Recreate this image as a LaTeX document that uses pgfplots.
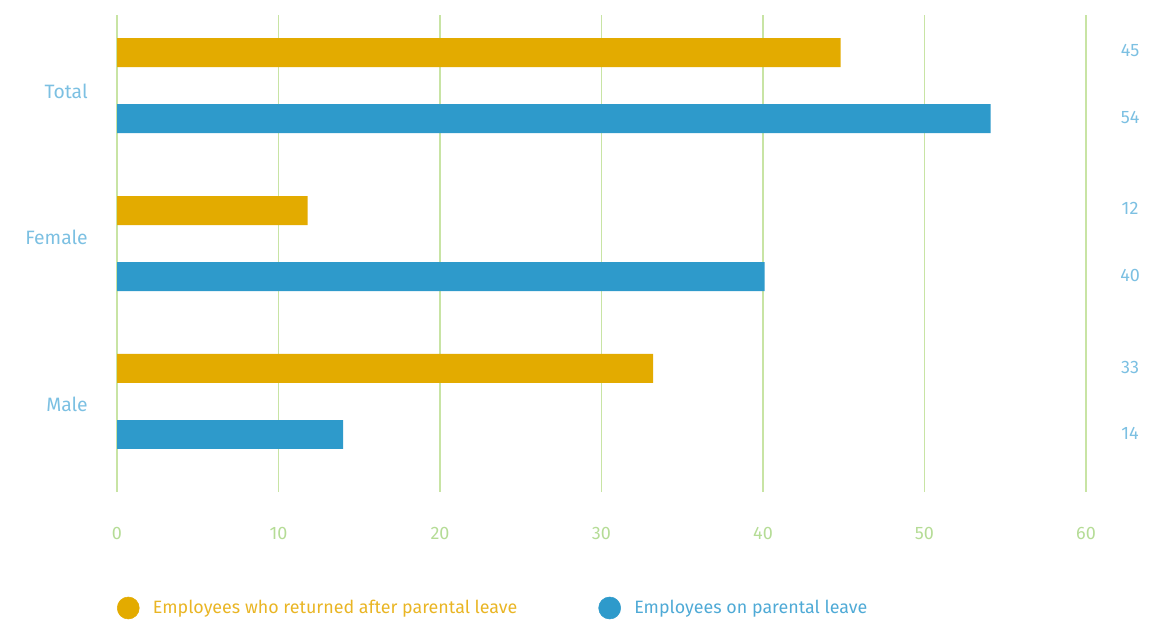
\documentclass[border=0pt]{standalone}
\usepackage{fontspec}
\setmainfont{Fira Sans}
\usepackage{pgfplots}
\pgfplotsset{compat=1.18}
\definecolor{gold}{HTML}{E3AB00}
\definecolor{barblue}{HTML}{2E9ACB}
\definecolor{gridgreen}{HTML}{C8E4A4}
\definecolor{tickgreen}{HTML}{B5DC96}
\definecolor{labblue}{HTML}{7CC0E2}
\definecolor{legold}{HTML}{E9B524}
\definecolor{leblue}{HTML}{4FAAD6}
\begin{document}
\begin{tikzpicture}[x=1pt,y=1pt]
\path[use as bounding box] (0,0) rectangle (870,465.75);
\begin{axis}[
  at={(87.75pt,96.75pt)}, anchor=south west,
  scale only axis, width=726.75pt, height=357.75pt,
  xmin=0, xmax=60, ymin=-0.573, ymax=2.447,
  clip=false,
  axis line style={draw=none},
  major tick length=0pt,
  xtick={0,10,...,60},
  xmajorgrids,
  grid style={color=gridgreen, line width=1pt},
  ytick={-0.02,1.04,1.965},
  yticklabels={Male,Female,Total},
  yticklabel style={anchor=east, inner sep=0pt, xshift=-21.75pt, font=\fontsize{14.5}{17}\selectfont, text=labblue},
  xticklabel style={anchor=center, inner sep=0pt, yshift=-30.75pt, font=\fontsize{13.5}{16}\selectfont, text=tickgreen},
  /pgf/number format/assume math mode=true,
  legend columns=2,
  legend style={draw=none, fill=none, at={(axis description cs:0,0)}, anchor=west, xshift=0pt, yshift=-87pt,
    font=\fontsize{13.4}{16}\selectfont, inner sep=0pt,
    /tikz/every odd column/.append style={column sep=8.25pt},
    /tikz/every even column/.append style={column sep=59pt}},
  legend cell align=left,
]
\addplot[xbar, bar width=0.1835, bar shift=0pt, draw=none, fill=gold, forget plot]
  coordinates {(44.8,2.209) (11.8,1.209) (33.2,0.209)};
\addplot[xbar, bar width=0.1835, bar shift=0pt, draw=none, fill=barblue, forget plot]
  coordinates {(54.1,1.791) (40.1,0.791) (14.0,-0.209)};
\addlegendimage{only marks, mark=*, mark size=8.25pt, color=gold}
\addlegendentry{\textcolor{legold}{Employees who returned after parental leave}}
\addlegendimage{only marks, mark=*, mark size=8.25pt, color=barblue}
\addlegendentry{\textcolor{leblue}{Employees on parental leave}}
\begin{scope}[every node/.style={text=labblue, font=\fontsize{13.5}{16}\selectfont}]
\node at (axis cs:62.73,2.22) {45};
\node at (axis cs:62.73,1.80) {54};
\node at (axis cs:62.73,1.22) {12};
\node at (axis cs:62.73,0.80) {40};
\node at (axis cs:62.73,0.215) {33};
\node at (axis cs:62.73,-0.20) {14};
\end{scope}
\end{axis}
\end{tikzpicture}
\end{document}
